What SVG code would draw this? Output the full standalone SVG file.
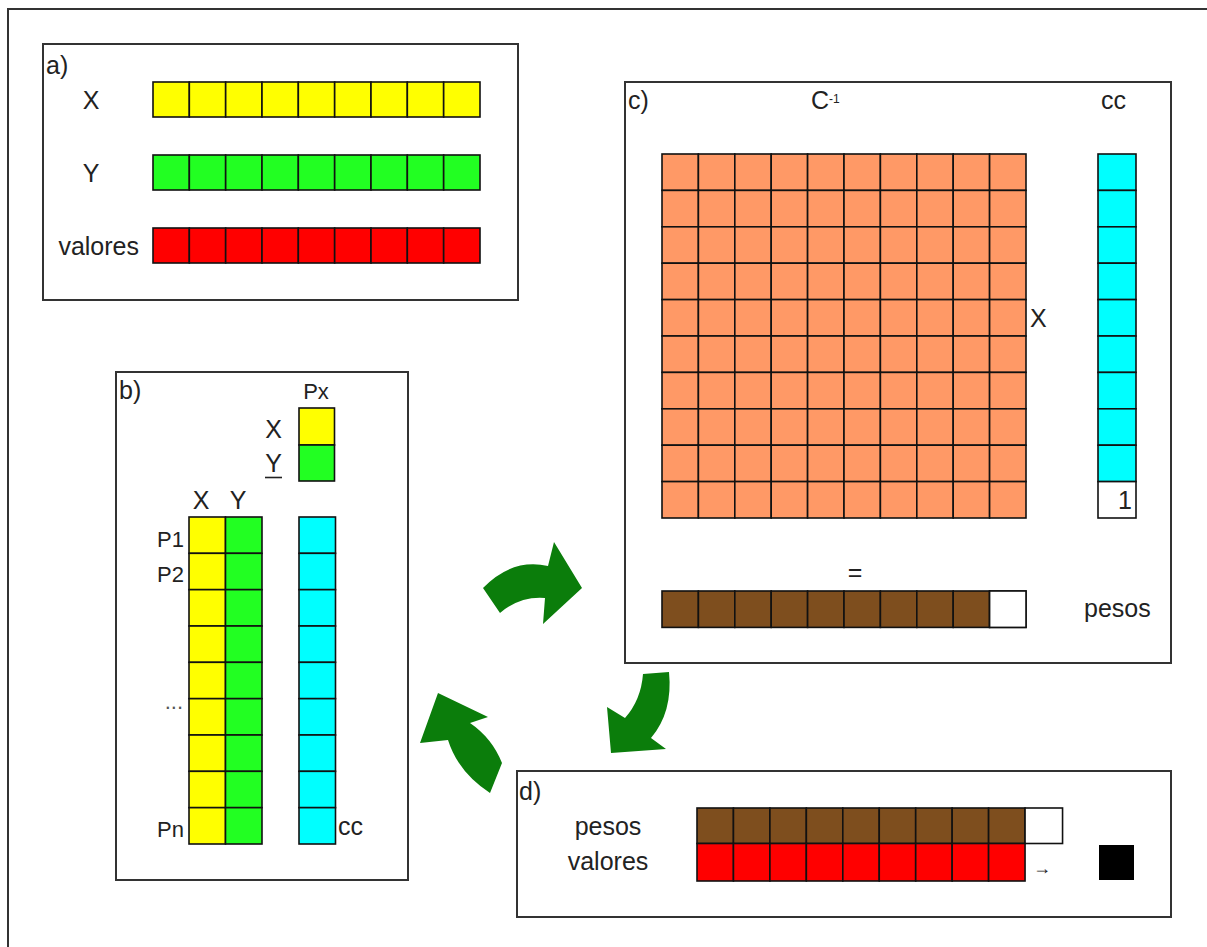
<svg xmlns="http://www.w3.org/2000/svg" xmlns:xlink="http://www.w3.org/1999/xlink" width="1207" height="947" viewBox="0 0 1207 947">
<style>
.panel{fill:#fff;stroke:#333;stroke-width:2}
.t{font-family:"Liberation Sans",Arial,sans-serif;font-size:25px;fill:#222}
.s{font-size:22px}
.c{stroke:#111;stroke-width:1.6}
.arrow{fill:#0b7d0b;stroke:none}
</style>
<defs>
<g id="row9a"><rect x="0" y="0" width="36.33" height="35"/><rect x="36.33" y="0" width="36.33" height="35"/><rect x="72.67" y="0" width="36.33" height="35"/><rect x="109" y="0" width="36.33" height="35"/><rect x="145.33" y="0" width="36.33" height="35"/><rect x="181.67" y="0" width="36.33" height="35"/><rect x="218" y="0" width="36.33" height="35"/><rect x="254.33" y="0" width="36.33" height="35"/><rect x="290.67" y="0" width="36.33" height="35"/></g>
<g id="col9b"><rect x="0" y="0" width="36.5" height="36.33"/><rect x="0" y="36.33" width="36.5" height="36.33"/><rect x="0" y="72.67" width="36.5" height="36.33"/><rect x="0" y="109" width="36.5" height="36.33"/><rect x="0" y="145.33" width="36.5" height="36.33"/><rect x="0" y="181.67" width="36.5" height="36.33"/><rect x="0" y="218" width="36.5" height="36.33"/><rect x="0" y="254.33" width="36.5" height="36.33"/><rect x="0" y="290.67" width="36.5" height="36.33"/></g>
<g id="row10c"><rect x="0" y="0" width="36.4" height="36.4"/><rect x="36.4" y="0" width="36.4" height="36.4"/><rect x="72.8" y="0" width="36.4" height="36.4"/><rect x="109.2" y="0" width="36.4" height="36.4"/><rect x="145.6" y="0" width="36.4" height="36.4"/><rect x="182" y="0" width="36.4" height="36.4"/><rect x="218.4" y="0" width="36.4" height="36.4"/><rect x="254.8" y="0" width="36.4" height="36.4"/><rect x="291.2" y="0" width="36.4" height="36.4"/><rect x="327.6" y="0" width="36.4" height="36.4"/></g>
<g id="col9c"><rect x="0" y="0" width="38" height="36.4"/><rect x="0" y="36.4" width="38" height="36.4"/><rect x="0" y="72.8" width="38" height="36.4"/><rect x="0" y="109.2" width="38" height="36.4"/><rect x="0" y="145.6" width="38" height="36.4"/><rect x="0" y="182" width="38" height="36.4"/><rect x="0" y="218.4" width="38" height="36.4"/><rect x="0" y="254.8" width="38" height="36.4"/><rect x="0" y="291.2" width="38" height="36.4"/></g>
</defs>
<rect x="0" y="0" width="1207" height="947" fill="#fff"/>
<rect x="8" y="9" width="1300" height="1000" fill="none" stroke="#333" stroke-width="2"/>

<g id="panel-a">
<rect class="panel" x="43" y="44" width="475" height="256"/>
<text class="t" x="46" y="74">a)</text>
<text class="t" x="91" y="109" text-anchor="middle">X</text>
<text class="t" x="91" y="182" text-anchor="middle">Y</text>
<text class="t" x="139" y="255" text-anchor="end">valores</text>
<g class="c">
<use xlink:href="#row9a" href="#row9a" x="153" y="82" fill="#ffff00"/>
<use xlink:href="#row9a" href="#row9a" x="153" y="155" fill="#22ff22"/>
<use xlink:href="#row9a" href="#row9a" x="153" y="228" fill="#ff0000"/>
</g>
</g>

<g id="panel-b">
<rect class="panel" x="116" y="372" width="292" height="508"/>
<text class="t" x="119" y="399">b)</text>
<text class="t s" x="316" y="399" text-anchor="middle">Px</text>
<text class="t" x="273.5" y="438" text-anchor="middle">X</text>
<text class="t" x="273.5" y="472" text-anchor="middle">Y</text>
<line x1="265" y1="477.5" x2="282" y2="477.5" stroke="#222" stroke-width="1.6"/>
<text class="t" x="201" y="509" text-anchor="middle">X</text>
<text class="t" x="238" y="509" text-anchor="middle">Y</text>
<text class="t s" x="184" y="547" text-anchor="end">P1</text>
<text class="t s" x="184" y="582" text-anchor="end">P2</text>
<text class="t s" x="183" y="709" text-anchor="end" style="fill:#555">...</text>
<text class="t s" x="184" y="837" text-anchor="end">Pn</text>
<text class="t" x="338" y="835">cc</text>
<g class="c">
<rect x="299" y="408" width="35.5" height="37" fill="#ffff00"/>
<rect x="299" y="445" width="35.5" height="36" fill="#22ff22"/>
<use xlink:href="#col9b" href="#col9b" x="189" y="517" fill="#ffff00"/>
<use xlink:href="#col9b" href="#col9b" x="225.5" y="517" fill="#22ff22"/>
<use xlink:href="#col9b" href="#col9b" x="299" y="517" fill="#00ffff"/>
</g>
</g>

<g id="panel-c">
<rect class="panel" x="625" y="82" width="546" height="581"/>
<text class="t" x="628" y="109">c)</text>
<text class="t" x="811" y="109">C</text>
<text x="829" y="103" style="font-family:'Liberation Sans',Arial,sans-serif;font-size:12px;fill:#222">-1</text>
<text class="t" x="1101" y="109">cc</text>
<text class="t" x="1030" y="327">X</text>
<g class="c">
<use xlink:href="#row10c" href="#row10c" x="662" y="154" fill="#ff9966"/>
<use xlink:href="#row10c" href="#row10c" x="662" y="190.4" fill="#ff9966"/>
<use xlink:href="#row10c" href="#row10c" x="662" y="226.8" fill="#ff9966"/>
<use xlink:href="#row10c" href="#row10c" x="662" y="263.2" fill="#ff9966"/>
<use xlink:href="#row10c" href="#row10c" x="662" y="299.6" fill="#ff9966"/>
<use xlink:href="#row10c" href="#row10c" x="662" y="336" fill="#ff9966"/>
<use xlink:href="#row10c" href="#row10c" x="662" y="372.4" fill="#ff9966"/>
<use xlink:href="#row10c" href="#row10c" x="662" y="408.8" fill="#ff9966"/>
<use xlink:href="#row10c" href="#row10c" x="662" y="445.2" fill="#ff9966"/>
<use xlink:href="#row10c" href="#row10c" x="662" y="481.6" fill="#ff9966"/>
<use xlink:href="#col9c" href="#col9c" x="1098" y="154" fill="#00ffff"/>
<rect x="1098" y="481.6" width="38" height="36.4" fill="#fff"/>
<use xlink:href="#row10c" href="#row10c" x="662" y="591" fill="#7e4e1e"/>
<rect x="989.6" y="591" width="36.4" height="36.4" fill="#fff"/>
</g>
<text class="t" x="1118" y="509">1</text>
<text class="t" x="855" y="581" text-anchor="middle">=</text>
<text class="t" x="1084" y="617">pesos</text>
</g>

<g id="panel-d">
<rect class="panel" x="517" y="771" width="654" height="146"/>
<text class="t" x="519" y="800">d)</text>
<text class="t" x="608" y="835" text-anchor="middle">pesos</text>
<text class="t" x="608" y="870" text-anchor="middle">valores</text>
<g class="c">
<rect x="697" y="808" width="36.45" height="35.5" fill="#7e4e1e"/>
<rect x="733.45" y="808" width="36.45" height="35.5" fill="#7e4e1e"/>
<rect x="769.9" y="808" width="36.45" height="35.5" fill="#7e4e1e"/>
<rect x="806.35" y="808" width="36.45" height="35.5" fill="#7e4e1e"/>
<rect x="842.8" y="808" width="36.45" height="35.5" fill="#7e4e1e"/>
<rect x="879.25" y="808" width="36.45" height="35.5" fill="#7e4e1e"/>
<rect x="915.7" y="808" width="36.45" height="35.5" fill="#7e4e1e"/>
<rect x="952.15" y="808" width="36.45" height="35.5" fill="#7e4e1e"/>
<rect x="988.6" y="808" width="36.45" height="35.5" fill="#7e4e1e"/>
<rect x="1025.05" y="808" width="37.5" height="35.5" fill="#fff"/>
<rect x="697" y="843.5" width="36.45" height="37.5" fill="#ff0000"/>
<rect x="733.45" y="843.5" width="36.45" height="37.5" fill="#ff0000"/>
<rect x="769.9" y="843.5" width="36.45" height="37.5" fill="#ff0000"/>
<rect x="806.35" y="843.5" width="36.45" height="37.5" fill="#ff0000"/>
<rect x="842.8" y="843.5" width="36.45" height="37.5" fill="#ff0000"/>
<rect x="879.25" y="843.5" width="36.45" height="37.5" fill="#ff0000"/>
<rect x="915.7" y="843.5" width="36.45" height="37.5" fill="#ff0000"/>
<rect x="952.15" y="843.5" width="36.45" height="37.5" fill="#ff0000"/>
<rect x="988.6" y="843.5" width="36.45" height="37.5" fill="#ff0000"/>
</g>
<text x="1033" y="874" style="font-family:'Liberation Sans',Arial,sans-serif;font-size:18px;fill:#222">→</text>
<rect x="1099" y="845" width="35" height="35" fill="#000"/>
</g>

<g id="connectors">
<path class="arrow" d="M483,588 Q512,558 548,566 L554,542 L582,588 L543,624 L545,598 Q520,596 500,613 Z"/>
<path class="arrow" d="M643,674 L669,672 Q673,712 651,738 L666,749 L611,753 L607,707 L625,718 Q641,700 643,674 Z"/>
<path class="arrow" d="M438,693 L488,717 L470,723 Q492,738 502,763 L490,793 Q458,772 448,740 L420,743 Z"/>
</g>
</svg>
